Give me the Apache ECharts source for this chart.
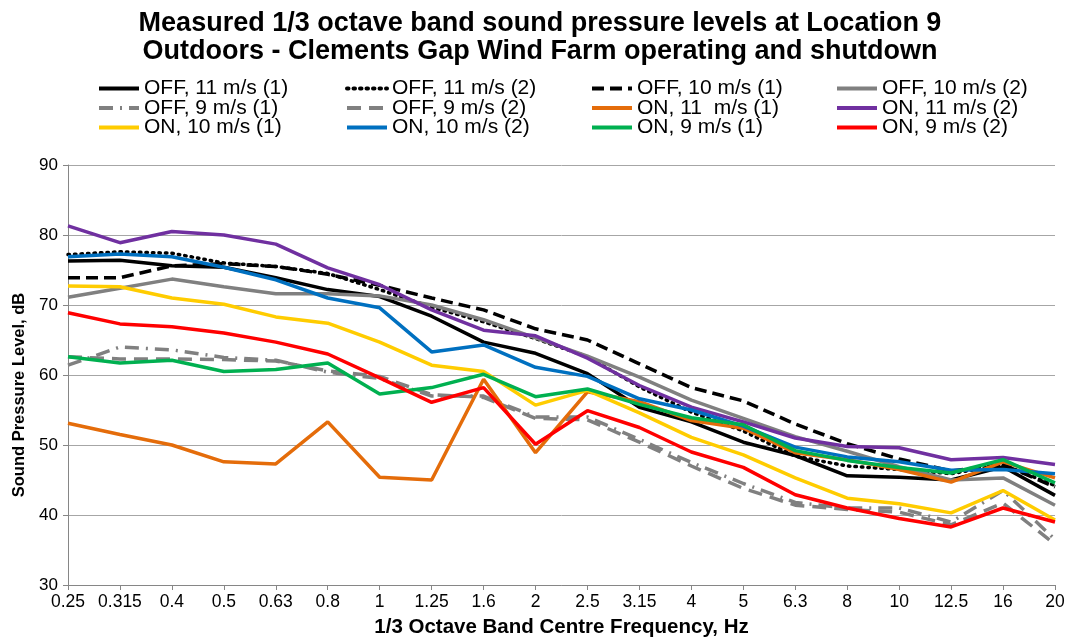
<!DOCTYPE html>
<html>
<head>
<meta charset="utf-8">
<script src="https://cdn.jsdelivr.net/npm/echarts@6/dist/echarts.min.js"></script>
<style>
html,body{margin:0;padding:0;background:#fff;}
#chart{width:1067px;height:637px;}
</style>
</head>
<body>
<div id="chart"></div>
<script>
const categories = ['0.25','0.315','0.4','0.5','0.63','0.8','1','1.25','1.6','2','2.5','3.15','4','5','6.3','8','10','12.5','16','20'];
const yTicks = [30, 40, 50, 60, 70, 80, 90];

const off11_1 = [76.3, 76.4, 75.6, 75.4, 73.9, 72.2, 71.2, 68.4, 64.7, 63.1, 60.2, 55.4, 53.3, 50.4, 48.5, 45.6, 45.4, 45.0, 46.9, 42.8];
const off11_2 = [77.2, 77.6, 77.4, 76.0, 75.5, 74.5, 72.2, 69.7, 67.6, 65.2, 62.6, 58.3, 54.7, 52.0, 48.4, 47.0, 46.5, 45.9, 47.2, 44.2];
const off10_1 = [73.9, 73.9, 75.6, 75.9, 75.5, 74.4, 72.8, 71.0, 69.3, 66.6, 65.0, 61.6, 58.2, 56.3, 53.0, 50.2, 48.0, 46.3, 47.2, 44.0];
const off10_2 = [71.1, 72.4, 73.7, 72.6, 71.6, 71.6, 71.3, 70.0, 67.9, 65.3, 62.7, 59.7, 56.4, 53.8, 51.2, 49.1, 46.9, 45.0, 45.3, 41.4];
const off9_1  = [61.4, 64.0, 63.6, 62.5, 62.1, 60.4, 59.5, 57.0, 57.0, 54.0, 54.0, 50.8, 47.5, 44.5, 41.8, 41.0, 41.0, 39.0, 43.5, 36.5];
const off9_2  = [62.6, 62.3, 62.3, 62.2, 62.0, 60.6, 59.8, 57.2, 56.8, 53.8, 53.6, 50.4, 47.0, 43.8, 41.4, 40.8, 40.4, 38.6, 41.7, 35.8];
const on11_1  = [53.1, 51.5, 50.0, 47.6, 47.3, 53.3, 45.4, 45.0, 59.4, 48.9, 57.6, 56.2, 53.5, 52.4, 48.9, 47.9, 46.5, 44.7, 47.6, 45.3];
const on11_2  = [81.3, 78.9, 80.5, 80.0, 78.7, 75.3, 72.9, 69.3, 66.4, 65.6, 62.4, 58.5, 55.4, 53.3, 51.0, 49.8, 49.6, 47.9, 48.2, 47.2];
const on10_1  = [72.7, 72.6, 71.0, 70.1, 68.3, 67.4, 64.7, 61.4, 60.5, 55.7, 57.8, 54.6, 51.1, 48.6, 45.3, 42.4, 41.6, 40.3, 43.5, 39.3];
const on10_2  = [76.9, 77.3, 76.9, 75.4, 73.6, 71.0, 69.6, 63.3, 64.3, 61.1, 59.8, 56.6, 55.0, 52.7, 49.7, 48.3, 47.6, 46.4, 46.5, 45.9];
const on9_1   = [62.6, 61.7, 62.1, 60.5, 60.8, 61.7, 57.3, 58.2, 60.1, 56.9, 58.0, 55.8, 53.9, 52.9, 49.2, 47.8, 46.8, 46.0, 47.9, 44.6];
const on9_2   = [68.9, 67.3, 66.9, 66.0, 64.7, 63.0, 59.6, 56.1, 58.2, 50.1, 54.9, 52.5, 49.0, 46.8, 42.9, 41.0, 39.5, 38.3, 41.0, 39.0];

const seriesNames = ['OFF, 11 m/s (1)','OFF, 11 m/s (2)','OFF, 10 m/s (1)','OFF, 10 m/s (2)',
  'OFF, 9 m/s (1)','OFF, 9 m/s (2)','ON, 11  m/s (1)','ON, 11 m/s (2)',
  'ON, 10 m/s (1)','ON, 10 m/s (2)','ON, 9 m/s (1)','ON, 9 m/s (2)'];
const seriesData = [off11_1, off11_2, off10_1, off10_2, off9_1, off9_2, on11_1, on11_2, on10_1, on10_2, on9_1, on9_2];
const seriesColors = ['#000000','#000000','#000000','#808080','#808080','#808080','#E46C0A','#7030A0','#FFCC00','#0070C0','#00B050','#FF0000'];
const seriesDash = ['solid',[1.5,5],[12,6],'solid',[14,7,2,7],[14,8],'solid','solid','solid','solid','solid','solid'];

const font = 'Liberation Sans, Arial, sans-serif';
const LW = 3.5;

const series = seriesNames.map((n, i) => ({
  name: n,
  type: 'line',
  data: seriesData[i],
  symbol: 'none',
  showSymbol: false,
  color: seriesColors[i],
  itemStyle: { color: seriesColors[i] },
  lineStyle: { color: seriesColors[i], width: LW, type: seriesDash[i], cap: i === 1 ? 'round' : 'butt' },
  z: 2 + i,
  animation: false
}));

const legendCols = [97, 345, 590, 835];
const legendRows = [88, 107.5, 127];
const legends = seriesNames.map((n, i) => ({
  show: true,
  orient: 'horizontal',
  left: legendCols[i % 4],
  top: legendRows[Math.floor(i / 4)] - 10,
  padding: 0,
  itemWidth: 40,
  itemHeight: 20,
  itemStyle: { opacity: 0, borderWidth: 0 },
  lineStyle: { width: 4, color: seriesColors[i], type: seriesDash[i], cap: i === 1 ? 'round' : 'butt' },
  data: [n],
  textStyle: { fontFamily: font, fontSize: 21, color: '#000', lineHeight: 20 },
  selectedMode: false
}));

const chart = echarts.init(document.getElementById('chart'), null, { renderer: 'canvas' });
chart.setOption({
  backgroundColor: '#fff',
  animation: false,
  title: {
    text: 'Measured 1/3 octave band sound pressure levels at Location 9\nOutdoors - Clements Gap Wind Farm operating and shutdown',
    left: 540,
    textAlign: 'center',
    top: 10,
    padding: 0,
    textStyle: { fontFamily: font, fontSize: 27, fontWeight: 'bold', color: '#000', lineHeight: 28 }
  },
  legend: legends,
  grid: { left: 68, right: 12, top: 165, bottom: 52, containLabel: false, outerBoundsMode: 'none' },
  xAxis: {
    type: 'category',
    data: categories,
    boundaryGap: false,
    name: '1/3 Octave Band Centre Frequency, Hz',
    nameLocation: 'middle',
    nameGap: 32,
    nameTextStyle: { fontFamily: font, fontSize: 20.5, fontWeight: 'bold', color: '#000' },
    axisLine: { lineStyle: { color: '#868686', width: 1 } },
    axisTick: { show: true, length: 5, lineStyle: { color: '#868686' } },
    axisLabel: { interval: 0, fontFamily: font, fontSize: 17.5, color: '#000', margin: 8 },
    splitLine: { show: false }
  },
  yAxis: {
    type: 'value',
    min: yTicks[0],
    max: yTicks[yTicks.length - 1],
    interval: 10,
    name: 'Sound Pressure Level, dB',
    nameLocation: 'middle',
    nameGap: 40,
    nameTextStyle: { fontFamily: font, fontSize: 16.5, fontWeight: 'bold', color: '#000', padding: [0, 40, 0, 0] },
    axisLine: { show: true, lineStyle: { color: '#868686', width: 1 } },
    axisTick: { show: true, length: 5, lineStyle: { color: '#868686' } },
    axisLabel: { fontFamily: font, fontSize: 17, color: '#000', margin: 10 },
    splitLine: { show: true, lineStyle: { color: '#A6A6A6', width: 1 } }
  },
  series: series
});
</script>
</body>
</html>
